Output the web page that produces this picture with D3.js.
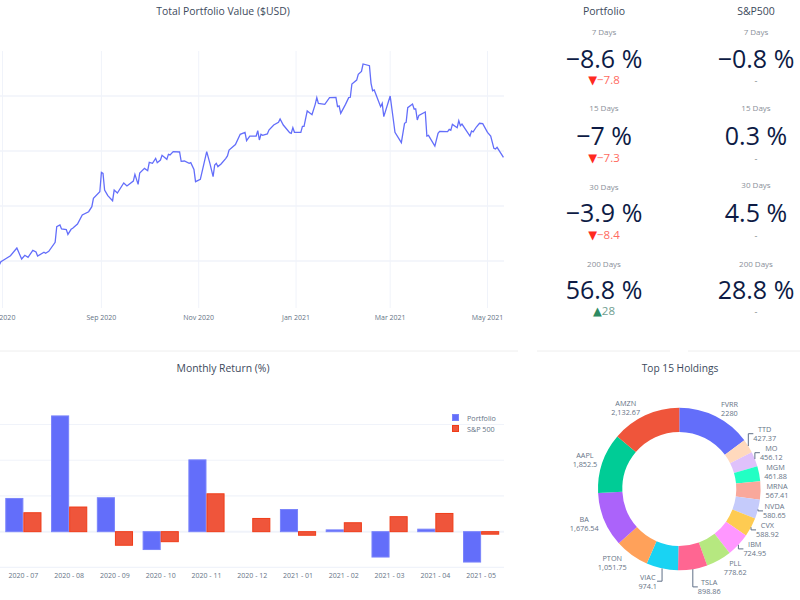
<!DOCTYPE html>
<html>
<head>
<meta charset="utf-8">
<script src="https://cdn.jsdelivr.net/npm/d3@7"></script>
<style>
html, body { margin: 0; padding: 0; background: #fff; }
text { font-family: "Open Sans", sans-serif; }
</style>
</head>
<body>
<div id="svg"></div>
<script>
// portfolio value, days counted from 2020-07-01, value in $k
let lineDays = [-2,-1,2,5,9,12,14,16,19,21,22,26,27,29,33,34,36,37,40,41,43,44,47,50,54,56,57,61,62,63,64,66,69,70,72,76,78,82,83,85,86,89,91,92,94,96,97,99,100,103,104,105,107,111,112,114,117,118,120,121,124,128,130,132,133,134,135,137,140,141,142,146,149,152,153,155,159,160,161,162,163,166,167,170,173,174,176,180,181,182,183,187,188,189,191,194,196,197,198,202,205,209,210,211,212,215,217,218,219,222,223,225,226,230,231,232,233,237,238,239,243,245,246,250,252,253,254,257,258,259,260,261,265,266,267,271,273,274,279,280,281,282,285,286,287,288,293,294,295,297,299,301,304,306,308,309,310,314]
let lineValues = [9.64,9.94,10.21,10.48,11.18,10.18,10.52,10.33,10.97,10.82,10.45,10.79,10.70,10.88,11.70,13.12,13.27,12.91,12.85,12.42,12.88,12.97,13.36,14.18,14.48,14.94,15.70,16.30,18.06,17.97,16.45,15.94,15.48,16.45,16.18,17.09,16.82,17.27,17.88,16.97,18.00,18.42,18.21,18.97,18.88,19.33,18.94,19.18,19.61,19.24,19.70,19.64,19.94,19.91,19.06,19.09,18.88,18.94,18.33,17.21,17.42,19.94,18.88,17.67,18.73,18.88,18.58,18.82,19.33,19.55,20.09,20.58,21.52,21.70,20.94,21.36,21.36,21.85,21.00,21.52,21.42,21.55,21.91,22.36,22.61,22.91,22.36,21.67,21.61,22.12,21.70,21.70,22.24,22.24,23.64,23.30,24.24,24.85,24.33,24.24,24.85,24.88,24.03,24.09,23.42,24.24,24.85,24.88,26.09,26.45,26.97,27.24,27.91,27.76,26.15,25.48,25.55,24.03,24.33,23.12,25.00,22.82,21.70,20.76,22.52,22.61,23.94,24.27,23.82,23.82,22.82,23.24,23.55,21.36,21.42,20.45,21.61,21.79,21.76,21.97,21.88,22.42,22.12,22.76,22.30,22.45,21.36,21.82,21.73,22.18,22.52,22.48,21.70,21.36,20.24,20.18,20.33,19.42]
let lineYTicks = [10, 15, 20, 25]
let lineXTicks = ['2020-07-01', '2020-09-01', '2020-11-01', '2021-01-01', '2021-03-01', '2021-05-01']

let periods = ['7 Days', '15 Days', '30 Days', '200 Days']
let portfolioReturns = [-8.6, -7, -3.9, 56.8]
let portfolioDeltas = [-7.8, -7.3, -8.4, 28]
let sp500Returns = [-0.8, 0.3, 4.5, 28.8]

let months = ['2020 - 07', '2020 - 08', '2020 - 09', '2020 - 10', '2020 - 11', '2020 - 12', '2021 - 01', '2021 - 02', '2021 - 03', '2021 - 04', '2021 - 05']
let monthlyPortfolio = [9.3, 32.4, 9.5, -5.0, 20.1, 0, 6.2, 0.5, -7.1, 0.7, -8.5]
let monthlySp500 = [5.3, 6.9, -3.8, -2.8, 10.6, 3.7, -1.0, 2.5, 4.2, 5.1, -0.7]
let barTicks = [-10, 0, 10, 20, 30]

let holdings = ['FVRR', 'TTD', 'MO', 'MGM', 'MRNA', 'NVDA', 'CVX', 'IBM', 'PLL', 'TSLA', 'VIAC', 'PTON', 'BA', 'AAPL', 'AMZN']
let holdingValues = [2280, 427.37, 456.12, 461.88, 567.41, 580.65, 588.92, 724.95, 778.62, 898.86, 974.1, 1051.75, 1676.54, 1852.5, 2132.67]
let holdingLabels = ['2280', '427.37', '456.12', '461.88', '567.41', '580.65', '588.92', '724.95', '778.62', '898.86', '974.1', '1,051.75', '1,676.54', '1,852.5', '2,132.67']
let holdingColors = ['#636efa', '#ffd9bd', '#dfc1fb', '#22ffc4', '#f9a89b', '#c5cbfb', '#fecb52', '#ff97ff', '#b6e880', '#ff6692', '#19d3f3', '#ffa15a', '#ab63fa', '#00cc96', '#ef553b']

let titleColor = '#3d4a5c', tickColor = '#667386', gridColor = '#f0f3fa'

let svg = d3.select('#svg')
.append('svg')
.attr('width', 800)
.attr('height', 600)
.style('display', 'block')

function title(label, x, y, size) {
	svg.append('text')
	.text(label)
	.attr('x', x)
	.attr('y', y)
	.style('text-anchor', 'middle')
	.style('font-size', size)
	.style('fill', titleColor)
}

// separators between the cards
svg.selectAll('.sep')
.data([[0, 518], [537, 670], [688, 800]])
.join('line')
.attr('class', 'sep')
.attr('x1', d => d[0])
.attr('x2', d => d[1])
.attr('y1', 351)
.attr('y2', 351)
.style('stroke', '#eeeeee')
.style('stroke-width', 1)

// ---- total portfolio value
title('Total Portfolio Value ($USD)', 223, 15, 10.4)

let start = new Date(2020, 6, 1)
let timeScale = d3.scaleTime()
.domain([start, new Date(2021, 4, 1)])
.range([2.5, 487.5])

let valueScale = d3.scaleLinear()
.domain([10, 25])
.range([261, 96])

svg.selectAll('.h-grid')
.data(lineYTicks)
.join('line')
.attr('class', 'h-grid')
.attr('x1', 0)
.attr('x2', 504)
.attr('y1', d => valueScale(d))
.attr('y2', d => valueScale(d))
.style('stroke', gridColor)
.style('stroke-width', 1.5)

let lineXDates = lineXTicks.map(d => d3.timeParse('%Y-%m-%d')(d))

svg.selectAll('.v-grid')
.data(lineXDates)
.join('line')
.attr('class', 'v-grid')
.attr('x1', d => timeScale(d))
.attr('x2', d => timeScale(d))
.attr('y1', 51)
.attr('y2', 308)
.style('stroke', gridColor)
.style('stroke-width', 1)

svg.selectAll('.line-tick')
.data(lineXDates)
.join('text')
.attr('class', 'line-tick')
.text(d => d3.timeFormat('%b %Y')(d))
.attr('x', d => timeScale(d))
.attr('y', 320)
.style('text-anchor', 'middle')
.style('font-size', 7)
.style('fill', tickColor)

let lineFunc = d3.line()
.x((d, i) => timeScale(d3.timeDay.offset(start, lineDays[i])))
.y(d => valueScale(d))

svg.append('path')
.datum(lineValues)
.attr('d', lineFunc)
.style('fill', 'none')
.style('stroke', '#636efa')
.style('stroke-width', 1.3)

// ---- indicators
let columns = [
	{name: 'Portfolio', x: 604, values: portfolioReturns, deltas: portfolioDeltas, labelY: [35, 111, 190, 267]},
	{name: 'S&P500', x: 756, values: sp500Returns, deltas: null, labelY: [35, 111, 188, 267]}
]
let numberY = [68, 145, 222, 299]
let deltaY = [84, 162, 239, 315]

columns.forEach(col => {
	title(col.name, col.x, 15, 10.5)

	periods.forEach((p, i) => {
		svg.append('text')
		.text(p)
		.attr('x', col.x)
		.attr('y', col.labelY[i])
		.style('text-anchor', 'middle')
		.style('font-size', 8)
		.style('fill', '#8a8f99')

		svg.append('text')
		.text(String(col.values[i]).replace('-', '\u2212') + ' %')
		.attr('x', col.x)
		.attr('y', numberY[i])
		.style('text-anchor', 'middle')
		.style('font-size', 25)
		.style('fill', '#0d1b45')

		if (col.deltas) {
			let delta = col.deltas[i]
			let t = svg.append('text')
			.attr('x', col.x)
			.attr('y', deltaY[i])
			.style('text-anchor', 'middle')
			.style('font-size', 11.5)

			t.append('tspan')
			.text(delta < 0 ? '\u25BC' : '\u25B2')
			.style('font-family', '"DejaVu Sans"')
			.style('fill', delta < 0 ? '#ff2a1f' : '#2e8b63')

			t.append('tspan')
			.text(String(delta).replace('-', '\u2212'))
			.style('fill', delta < 0 ? '#ff6a60' : '#6f9e90')
		} else {
			svg.append('text')
			.text('-')
			.attr('x', col.x)
			.attr('y', deltaY[i])
			.style('text-anchor', 'middle')
			.style('font-size', 9)
			.style('fill', '#7f8c8d')
		}
	})
})

// ---- monthly return
title('Monthly Return (%)', 223, 372, 10.4)

let xScale = d3.scaleBand()
.domain(months)
.range([0.5, 504])

let seriesScale = d3.scaleBand()
.domain([0, 1])
.range([0, xScale.bandwidth()])
.paddingOuter(0.265)
.paddingInner(0)

let returnScale = d3.scaleLinear()
.domain([-10, 30])
.range([567.4, 424.5])

svg.selectAll('.bar-grid')
.data(barTicks)
.join('line')
.attr('class', 'bar-grid')
.attr('x1', 0)
.attr('x2', 504)
.attr('y1', d => returnScale(d))
.attr('y2', d => returnScale(d))
.style('stroke', gridColor)
.style('stroke-width', d => d === 0 ? 2 : 1.2)

let barSeries = [
	{values: monthlyPortfolio, fill: '#636efa', stroke: '#7a84fb', name: 'Portfolio'},
	{values: monthlySp500, fill: '#ef553b', stroke: '#f03c18', name: 'S&P 500'}
]

barSeries.forEach((s, k) => {
	svg.selectAll('.bar' + k)
	.data(s.values)
	.join('rect')
	.attr('class', 'bar' + k)
	.attr('x', (d, i) => xScale(months[i]) + seriesScale(k) + 0.5)
	.attr('width', seriesScale.bandwidth() - 1)
	.attr('y', d => returnScale(Math.max(d, 0)))
	.attr('height', d => Math.abs(returnScale(d) - returnScale(0)))
	.style('fill', s.fill)
	.style('stroke', s.stroke)
	.style('stroke-width', d => d === 0 ? 0 : 1)
})

svg.selectAll('.bar-tick')
.data(months)
.join('text')
.attr('class', 'bar-tick')
.text(d => d)
.attr('x', d => xScale(d) + xScale.bandwidth() / 2)
.attr('y', 578)
.style('text-anchor', 'middle')
.style('font-size', 7)
.style('fill', tickColor)

// legend
let legend = svg.selectAll('.legend')
.data(barSeries)
.join('g')
.attr('class', 'legend')
.attr('transform', (d, i) => `translate(452.5, ${414.5 + i * 11})`)

legend.append('rect')
.attr('width', 6)
.attr('height', 6)
.style('fill', d => d.fill)
.style('stroke', d => d.stroke)
.style('stroke-width', 1)

legend.append('text')
.text(d => d.name)
.attr('x', 14.5)
.attr('y', 6)
.style('font-size', 7.2)
.style('fill', tickColor)

// ---- top holdings
title('Top 15 Holdings', 680, 372, 10.2)

let cx = 679.3, cy = 489, outerR = 81.3, innerR = 57
let labelGap = 19

let pie = d3.pie().sort(null)
let arcs = pie(holdingValues)
let arc = d3.arc().innerRadius(innerR).outerRadius(outerR)

svg.append('g')
.attr('transform', `translate(${cx}, ${cy})`)
.selectAll('path')
.data(arcs)
.join('path')
.attr('d', arc)
.style('fill', (d, i) => holdingColors[i])

// label spots: next to the rim, then pushed apart like plotly does
let spots = arcs.map((d, i) => {
	let a = (d.startAngle + d.endAngle) / 2
	let px = cx + outerR * Math.sin(a), py = cy - outerR * Math.cos(a)
	let y = py - 9 * Math.cos(a)
	return {i, px, py, y, restY: y, side: Math.sin(a) > 0 ? 1 : -1}
})

let pivot = holdings.indexOf('PLL')
for (let i = pivot - 1; i >= 1; i--) {
	spots[i].y = Math.min(spots[i].y, spots[i + 1].y - labelGap)
}
for (let i = pivot + 1; i <= holdings.indexOf('TSLA'); i++) {
	spots[i].y = Math.max(spots[i].y, spots[i - 1].y + labelGap)
}
let leftPivot = holdings.indexOf('PTON')
spots[leftPivot - 1].y = Math.max(spots[leftPivot - 1].y, spots[leftPivot].y + labelGap)

let labels = svg.selectAll('.pie-label')
.data(spots)
.join('text')
.attr('class', 'pie-label')
.style('font-size', 7.3)
.style('fill', tickColor)
.style('text-anchor', 'middle')

labels.append('tspan').text(d => holdings[d.i]).attr('x', 0).attr('y', d => d.y - 1.5)
labels.append('tspan').text(d => holdingLabels[d.i]).attr('x', 0).attr('y', d => d.y + 7.5)

// box width only known once the text is in the page
labels.each(function(d) {
	let box = this.getBBox()
	d.edge = d.px + d.side * 5
	d3.select(this).selectAll('tspan').attr('x', d.edge + d.side * box.width / 2)
})

svg.selectAll('.leader')
.data(spots.filter(d => Math.abs(d.y - d.restY) > 0.5))
.join('path')
.attr('class', 'leader')
.attr('d', d => `M${d.px},${d.py}V${d.y}H${d.edge}`)
.style('fill', 'none')
.style('stroke', '#5f6f87')
.style('stroke-width', 1)
</script>
</body>
</html>
